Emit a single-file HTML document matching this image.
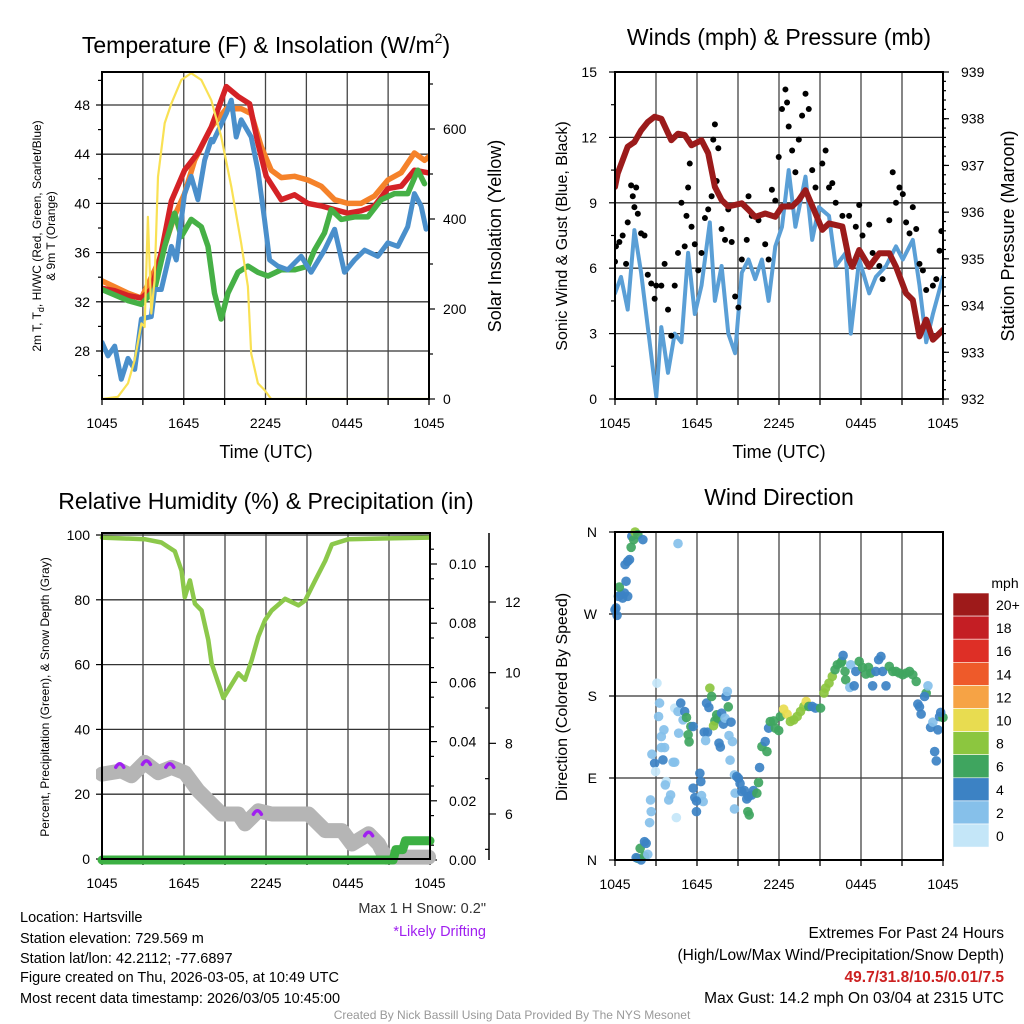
<!DOCTYPE html>
<html><head><meta charset="utf-8"><style>
body{margin:0;background:#fff}
svg{display:block;font-family:"Liberation Sans",sans-serif}
</style></head><body>
<svg id="s" width="1024" height="1024" viewBox="0 0 1024 1024" xmlns="http://www.w3.org/2000/svg">
<rect width="1024" height="1024" fill="#fff"/>
<g font-size="23" text-anchor="middle" fill="#000">
<text x="266" y="53">Temperature (F) &amp; Insolation (W/m<tspan font-size="14" dy="-10">2</tspan><tspan dy="10">)</tspan></text>
<text x="779" y="45">Winds (mph) &amp; Pressure (mb)</text>
<text x="266" y="509">Relative Humidity (%) &amp; Precipitation (in)</text>
<text x="779" y="505">Wind Direction</text>
</g>
<g font-size="18" text-anchor="middle">
<text x="266" y="458">Time (UTC)</text>
<text x="779" y="458">Time (UTC)</text>
<text transform="translate(501,236) rotate(-90)">Solar Insolation (Yellow)</text>
<text transform="translate(1014,236) rotate(-90)">Station Pressure (Maroon)</text>
</g>
<g font-size="16" text-anchor="middle">
<text transform="translate(567,236) rotate(-90)">Sonic Wind &amp; Gust (Blue, Black)</text>
<text transform="translate(567,697) rotate(-90)">Direction (Colored By Speed)</text>
</g>
<g font-size="12" text-anchor="middle">
<text transform="translate(41,236) rotate(-90)">2m T, T<tspan font-size="9" dy="3">d</tspan><tspan dy="-3">, HI/WC (Red, Green, Scarlet/Blue)</tspan></text>
<text transform="translate(55,236) rotate(-90)">&amp; 9m T (Orange)</text>
<text transform="translate(49,697) rotate(-90)">Percent, Precipitation (Green), &amp; Snow Depth (Gray)</text>
</g>
<g font-size="14.5" fill="#000">
<text x="20" y="922">Location: Hartsville</text>
<text x="20" y="943">Station elevation: 729.569 m</text>
<text x="20" y="963">Station lat/lon: 42.2112; -77.6897</text>
<text x="20" y="982">Figure created on Thu, 2026-03-05, at 10:49 UTC</text>
<text x="20" y="1003">Most recent data timestamp: 2026/03/05 10:45:00</text>
<text x="486" y="913" text-anchor="end" fill="#333">Max 1 H Snow: 0.2"</text>
<text x="486" y="936" text-anchor="end" fill="#a020f0">*Likely Drifting</text>
</g>
<g font-size="15.5" text-anchor="end">
<text x="1004" y="938">Extremes For Past 24 Hours</text>
<text x="1004" y="960">(High/Low/Max Wind/Precipitation/Snow Depth)</text>
<text x="1004" y="982" fill="#cc2020" font-weight="bold">49.7/31.8/10.5/0.01/7.5</text>
<text x="1004" y="1003">Max Gust: 14.2 mph On 03/04 at 2315 UTC</text>
</g>
<text x="512" y="1019" font-size="12" fill="#999" text-anchor="middle">Created By Nick Bassill Using Data Provided By The NYS Mesonet</text>
</svg>
<script>
// ---------- Panel 1 data ----------
const redHours=[0,0.93,1.91,2.89,3.62,4.35,5.09,6.06,7.04,8.02,9.12,9.98,10.83,11.44,12.05,13.15,14.13,15.11,16.09,17.07,18.04,19.02,20,20.98,21.96,22.93,23.9];
const redTemp=[33.1,32.9,32.5,32.3,33,36,40.2,42.7,44.1,46.2,49.5,48.7,48.1,44.9,42.2,40.3,40.7,40,39.8,39.5,39.2,39.4,39.8,41.2,41.4,42.7,42.5];
const orangeHours=[0,1.91,2.89,4.35,5.33,6.06,6.8,8.02,9.12,10.22,10.95,11.69,12.42,13.15,14.13,15.11,16.09,17.07,18.04,19.02,20,20.98,21.96,22.93,23.67,24];
const orangeTemp=[33.7,32.7,32.3,35.7,39,40.8,43.5,46.2,47.7,47.7,47.3,44.6,42.7,42.1,42.2,41.9,41.4,40.3,40,40,40.6,41.9,42.5,44.1,43.5,43.8];
const greenHours=[0,1.91,2.89,3.86,4.6,5.33,5.82,6.55,7.29,7.78,8.26,8.75,9.24,9.98,10.71,11.44,12.18,13.15,14.13,15.11,15.6,16.33,16.82,17.56,18.53,19.51,20.49,21.47,22.44,23.18,23.67];
const greenTemp=[33,32.1,31.8,33,36.5,39.2,37.3,38.7,38.1,36.5,32.7,30.6,32.7,34.4,34.9,34.4,34.1,34.6,34.6,34.9,36.2,37.6,39.5,38.7,38.9,38.9,40.3,40.8,40.8,42.7,41.6];
const blueHours=[0,0.44,0.93,1.42,1.91,2.4,2.89,3.62,3.86,4.35,5.09,5.45,6.06,6.55,7.04,7.53,8.02,8.14,9.12,9.49,9.85,10.22,10.95,11.44,11.93,12.3,12.91,13.64,14.62,15.35,16.33,17.07,17.8,18.53,19.27,20.24,20.98,21.71,22.44,22.93,23.42,23.79];
const blueTemp=[28.7,27.6,28.4,25.7,27.4,26.5,30.6,30.8,33,33,36.5,35.4,40.8,42.2,40.3,43.5,45.2,45,47.3,48.4,45.4,46.8,45.4,42.7,38.7,35.4,34.9,34.6,35.7,34.4,36.2,37.9,34.4,35.4,36.2,35.7,36.8,36.5,38.1,40.8,39.8,37.9];
const solarHours=[0,1.17,1.91,2.4,2.89,3.13,3.37,3.62,3.86,4.11,4.6,5.09,5.82,6.55,7.29,8.02,8.75,9.49,10.22,10.71,10.95,11.44,11.93,12.42,24];
const solarVals=[0,5,35,87,168,160,405,190,264,494,613,657,709,724,709,664,583,472,346,250,101,35,20,0,0];
const xTickLabels=["1045","1645","2245","0445","1045"];
const tempTicks=[28,32,36,40,44,48];
const solarTicks=[0,200,400,600];
// ---------- Panel 2 data ----------
const windHours=[0,0.44,0.93,1.42,1.91,2.4,3.02,3.39,3.88,4.37,4.86,5.35,5.84,6.33,6.94,7.31,7.8,8.29,8.79,9.28,9.77,10.26,10.75,11.24,11.73,12.22,12.71,13.2,13.94,14.43,14.92,15.66,16.15,16.88,17.25,17.87,18.6,19.09,19.83,20.56,21.06,21.79,22.28,22.77,23.26,24];
const windVals=[4.85,5.6,4.1,7.75,5.8,3.3,0.1,3.3,1.2,3.0,2.6,6.7,3.9,5.2,8.1,4.5,6.1,3.0,2.1,5.8,6.4,5.5,6.4,4.5,7.0,7.9,10.5,7.9,10.2,7.3,8.8,8.4,6.1,6.7,3.0,6.4,4.85,5.6,6.1,7.0,6.4,7.3,5.2,2.6,3.9,5.6];
const gustHours=[0,0.07,0.32,0.56,0.81,0.93,1.18,1.3,1.42,1.55,1.67,1.91,2.16,2.4,2.65,2.9,3.02,3.39,3.63,3.88,4.12,4.37,4.61,4.86,5.1,5.23,5.35,5.47,5.6,5.84,6.09,6.33,6.58,6.82,7.07,7.19,7.31,7.44,7.56,7.8,8.05,8.29,8.54,8.79,9.03,9.28,9.64,9.77,10.01,10.5,10.99,11.24,11.48,11.73,11.98,12.22,12.47,12.59,12.71,12.96,13.2,13.45,13.69,13.94,14.18,14.43,14.67,15.17,15.41,15.66,15.9,16.15,16.64,17.13,17.62,17.87,18.11,18.6,18.85,19.34,19.58,20.07,20.32,20.56,20.81,21.06,21.3,21.55,21.79,22.04,22.28,22.53,22.77,23.26,23.51,23.75,23.88];
const gustVals=[6.3,7.0,7.2,7.5,6.2,8.1,9.8,9.3,8.8,9.7,8.5,7.6,7.5,5.7,5.3,4.6,5.2,5.2,6.2,4.1,2.9,5.2,6.7,9.0,7.0,8.4,9.7,10.8,7.9,7.1,5.9,6.7,8.3,8.7,9.3,11.9,12.6,10.0,11.5,7.8,7.3,8.7,7.2,4.7,4.2,6.4,7.3,9.3,8.4,8.2,7.1,6.4,9.6,9.1,11.1,13.3,14.2,13.6,12.5,11.4,10.4,11.9,13.0,14.0,13.3,10.5,9.7,10.8,11.4,9.7,9.9,9.0,8.4,8.4,7.9,8.9,7.5,8.0,6.7,6.1,5.5,8.2,10.4,9.0,9.7,9.4,8.1,7.6,8.8,7.8,6.2,5.9,5.0,5.2,5.5,6.8,7.7];
const presHours=[0,0.2,0.93,1.42,1.91,2.4,2.9,3.39,4.12,4.61,5.1,5.6,6.33,6.82,7.31,7.8,8.29,9.28,9.77,10.26,10.99,11.73,12.22,12.96,13.45,13.94,14.67,15.17,15.66,16.64,17.13,17.37,17.87,18.6,19.34,20.07,20.56,21.3,21.79,22.28,22.77,23.26,24];
const presVals=[936.54,936.83,937.4,937.5,937.75,937.93,938.04,938.0,937.54,937.68,937.65,937.43,937.54,937.26,936.54,936.26,936.12,936.19,936.05,935.9,935.97,935.9,936.12,936.12,936.26,936.47,935.97,935.62,935.76,935.69,934.98,934.83,935.19,934.83,935.12,935.12,934.83,934.26,934.12,933.34,933.7,933.27,933.48];
const windTicks=[0,3,6,9,12,15];
const presTicks=[932,933,934,935,936,937,938,939];
// ---------- Panel 3 data ----------
const rhHours=[0,3.13,4.35,5.33,5.82,6.06,6.43,6.8,7.29,7.78,8.02,8.51,8.88,9.24,9.98,10.46,10.95,11.44,11.93,12.42,13.4,14.38,14.87,15.6,16.33,16.82,18.04,23.9];
const rhVals=[99.2,98.7,97.7,95,89,80.8,86,78.8,76.7,67.6,60.4,54.3,49.7,52.2,57.3,55.3,61.4,68.6,73.7,76.7,80.3,78.3,79.8,86,92,97.1,98.7,99.2];
const snowHours=[0,1.42,2.15,3.13,4.11,5.09,6.06,7.04,8.02,8.75,9.98,10.46,11.44,12.42,15.11,16.33,17.56,18.29,19.51,20.24,20.73,23.9];
const snowVals=[7.13,7.22,7.08,7.46,7.17,7.32,7.17,6.66,6.28,6.0,6.0,5.72,6.09,6.0,6.0,5.53,5.53,5.15,5.44,5.15,4.78,4.78];
const driftHours=[1.3,3.25,4.96,11.37,19.51];
const driftVals=[7.38,7.46,7.38,6.05,5.44];
const precipHours=[0,21.3,21.5,22.0,22.2,24];
const precipVals=[0,0,0.0035,0.0035,0.0065,0.0065];
const rhTicks=[0,20,40,60,80,100];
const precipTicks=["0.00","0.02","0.04","0.06","0.08","0.10"];
const snowTicks=[6,8,10,12];
// ---------- Panel 4 data ----------
const dirHours=[0,0.07,0.15,0.25,0.44,0.56,0.69,0.93,0.32,0.81,0.74,0.93,1.06,1.18,1.23,1.37,1.47,1.67,2.04,4.61,
1.67,1.55,1.91,2.16,2.4,1.84,2.16,2.28,2.53,2.65,2.6,2.7,2.9,2.97,3.07,3.26,3.19,3.39,3.51,3.58,3.39,3.63,3.75,3.68,3.93,4.07,4.25,4.37,4.49,4.37,4.61,4.81,4.98,5.1,5.23,4.66,5.35,5.55,5.42,
5.72,5.72,5.84,5.96,6.21,6.28,6.33,6.45,5.96,6.53,6.77,6.63,6.7,6.87,6.94,7.07,7.44,7.31,7.21,7.51,7.8,7.93,8.05,8.12,8.22,8.29,8.49,7.61,7.71,8.34,8.59,8.42,8.74,8.91,9.03,8.79,8.74,9.15,9.28,9.47,9.64,9.77,10.01,10.13,10.38,10.5,9.72,9.82,10.58,10.75,10.99,11.12,11.24,11.36,11.61,11.73,11.98,12.1,12.34,12.59,12.83,13.08,13.33,13.57,13.82,13.99,14.18,14.43,14.67,15.04,15.29,15.41,15.66,15.9,16.1,16.27,16.52,16.59,16.69,16.83,16.88,17.18,17.25,17.5,17.62,17.87,18.11,18.36,18.55,18.72,18.85,19.09,19.29,19.46,19.58,19.83,20.07,20.32,20.56,20.81,21.06,21.3,21.55,21.79,22.04,22.77,22.9,22.65,22.16,22.28,22.4,23.09,23.26,23.39,23.51,23.63,23.75,24,23.83];
const dirVals=[274.7,276.6,268.5,289.4,291.2,287.5,293.0,289.4,299.6,305.9,324.2,327.8,329.7,343.2,355.3,351.6,360,357.1,351.6,347.3,
1.8,2.6,0,4.4,6.2,12.8,20.1,18.3,41.0,53.1,65.9,116.1,106.2,97.1,194.1,172.2,157.5,135.5,109.9,142.9,123.4,123.4,86.1,82.4,65.9,71.4,107.3,107.3,46.5,166.7,163.0,172.2,153.8,163.0,156.4,139.2,137.4,146.5,129.7,
146.5,78.8,68.5,53.1,95.2,86.1,70.7,64.1,64.8,140.3,140.3,131.1,172.2,167.4,188.6,179.5,159.3,152.7,147.3,155.7,161.2,149.1,155.7,179.5,185.0,168.1,151.3,128.2,124.0,136.6,130.0,109.5,93.4,91.6,89.7,73.3,56.0,84.0,75.1,76.2,67.0,69.6,71.4,76.2,73.3,85.0,53.1,49.5,101.5,124.5,130.0,119.0,144.7,152.0,152.7,144.7,142.1,157.5,165.6,160.1,152.0,153.8,157.5,163.0,168.5,174.0,168.5,168.5,166.7,166.7,183.2,188.6,194.1,201.5,208.8,214.3,216.1,217.9,224.5,207.0,197.8,189.4,214.3,191.2,207.0,217.9,211.4,204.0,211.4,205.1,191.2,207.0,219.8,223.4,207.0,191.2,212.5,207.0,207.0,205.1,203.3,205.1,207.0,203.3,196.0,183.2,191.2,179.5,171.1,168.1,160.1,145.6,151.3,119.0,108.8,142.9,157.3,156.4,162.0,155.7];
const dirSpeeds=[4,4,4,4,4,4,4,4,6,4,4,4,4,6,4,6,8,6,4,2,
6,4,4,6,2,6,4,4,2,2,2,2,4,0.5,0.5,2,2,2,4,2,2,2,0.5,2,2,2,2,2,0.5,0.5,2,4,2,4,6,2,6,6,6,
4,4,4,4,4,4,2,2,4,4,4,2,4,4,8,6,6,6,8,6,4,4,2,4,2,6,4,4,4,2,2,2,2,4,4,2,2,4,4,4,4,4,4,4,6,6,6,6,4,6,4,6,4,6,6,6,6,6,10,10,8,8,8,8,8,10,6,4,4,6,8,8,8,8,6,6,6,6,4,6,6,2,2,4,4,6,6,6,6,6,4,4,4,4,4,4,6,6,6,6,6,6,6,6,6,6,2,4,4,4,4,4,2,4,4,4,4,6,4,6];
const cbLabels=["20+","18","16","14","12","10","8","6","4","2","0"];
const cbColors=["#9e1a1a","#c41e24","#de2f26","#ee5a2a","#f6a345","#e8dc50","#8cc63f","#3fa55f","#3c82c4","#86c0ea","#c4e6f8"];
const dirLabels=["N","E","S","W","N"];

const NS="http://www.w3.org/2000/svg";
const svg=document.getElementById('s');
function mk(tag,attrs,parent){const e=document.createElementNS(NS,tag);for(const k in attrs)e.setAttribute(k,attrs[k]);(parent||svg).appendChild(e);return e;}
function lin(d0,d1,r0,r1){return v=>r0+(v-d0)*(r1-r0)/(d1-d0);}
function pathD(xs,ys,fx,fy){return xs.map((h,i)=>(i?'L':'M')+fx(h).toFixed(1)+','+fy(ys[i]).toFixed(1)).join('');}

function frame(x0,x1,y0,y1,name){
  const g=mk('g',{});
  
  
  return g;
}
function timeAxis(g,x0,x1,y0,y1,xs){
  for(let h=3;h<24;h+=3){const l=mk('line',{x1:xs(h),x2:xs(h),y1:y0,y2:y1,stroke:'#444','stroke-width':1.3},g);
  
  }
  for(let h=0;h<=24;h+=3){const l=mk('line',{x1:xs(h),x2:xs(h),y1:y1,y2:y1+6,stroke:'#000','stroke-width':1.3},g);
  
  }
  xTickLabels.forEach((t,i)=>{const e=mk('text',{x:xs(i*6),y:y1+29,'font-size':14,'text-anchor':'middle'},g);e.textContent=t;
  
  });
}
function border(g,x0,x1,y0,y1){const r=mk('rect',{x:x0,y:y0,width:x1-x0,height:y1-y0,fill:'none',stroke:'#000','stroke-width':2},g);
  
  }
function hgrid(g,x0,x1,y){const l=mk('line',{x1:x0,x2:x1,y1:y,y2:y,stroke:'#333','stroke-width':1.3},g);
  
  }
function tick(g,x,y,len,name){const l=mk('line',{x1:x,x2:x+len,y1:y,y2:y,stroke:'#000','stroke-width':1.2},g);
  
  }
function label(g,x,y,t,anchor,name,size){const e=mk('text',{x:x,y:y+5,'font-size':size||14,'text-anchor':anchor},g);e.textContent=t;
  
  return e;}
function series(g,xs,ys,fx,fy,color,w,name){const p=mk('path',{d:pathD(xs,ys,fx,fy),fill:'none',stroke:color,'stroke-width':w,'stroke-linejoin':'round','stroke-linecap':'round'},g);
  
  return p;}

// ===== Panel 1 =====
{const x0=102,x1=429,y0=72,y1=399;const xs=lin(0,24,x0,x1);
 const yt=lin(28,48,351,105), ys=lin(0,600,399,129);
 const g=frame(x0,x1,y0,y1,'temperature-panel');
 tempTicks.forEach(t=>{hgrid(g,x0,x1,yt(t));tick(g,x0,yt(t),-6,'temp-tick');label(g,x0-12,yt(t),String(t),'end','temp-tick-label');});
 for(let t=26;t<=50;t+=2){if(t%4)tick(g,x0,yt(t),-4,'temp-minor-tick');}
 solarTicks.forEach(s=>{tick(g,x1,ys(s),6,'solar-tick');label(g,x1+14,ys(s),String(s),'start','solar-tick-label');});
 for(let s=100;s<=700;s+=200)tick(g,x1,ys(s),4,'solar-minor-tick');
 timeAxis(g,x0,x1,y0,y1,xs);
 const cp=mk('clipPath',{id:'c1'},g);mk('rect',{x:x0,y:y0,width:x1-x0,height:y1-y0},cp);
 const d=mk('g',{'clip-path':'url(#c1)'},g);
 series(d,orangeHours,orangeTemp,xs,yt,'#f5822a',5.5,'orange-9m-temp-line');
 series(d,redHours,redTemp,xs,yt,'#d42226',5.5,'red-2m-temp-line');
 series(d,greenHours,greenTemp,xs,yt,'#46b046',5.5,'green-dewpoint-line');
 series(d,blueHours,blueTemp,xs,yt,'#4a8fcb',5,'blue-windchill-line');
 series(d,solarHours,solarVals,xs,ys,'#f9e154',2.2,'yellow-insolation-line');
 border(g,x0,x1,y0,y1);}

// ===== Panel 2 =====
{const x0=615,x1=943,y0=72,y1=399;const xs=lin(0,24,x0,x1);
 const yw=lin(0,15,399,72), yp=lin(932,939,399,72);
 const g=frame(x0,x1,y0,y1,'winds-panel');
 windTicks.forEach(v=>{hgrid(g,x0,x1,yw(v));tick(g,x0,yw(v),-6,'wind-tick');label(g,x0-18,yw(v),String(v),'end','wind-tick-label');});
 for(let v=1.5;v<15;v+=3)tick(g,x0,yw(v),-4,'wind-minor-tick');
 presTicks.forEach(p=>{tick(g,x1,yp(p),6,'pressure-tick');label(g,x1+18,yp(p),String(p),'start','pressure-tick-label');});
 for(let p=932.2;p<939;p+=0.2)tick(g,x1,yp(p),3,'pressure-minor-tick');
 timeAxis(g,x0,x1,y0,y1,xs);
 const cp=mk('clipPath',{id:'c2'},g);mk('rect',{x:x0,y:y0,width:x1-x0,height:y1-y0},cp);
 const d=mk('g',{'clip-path':'url(#c2)'},g);
 series(d,windHours,windVals,xs,yw,'#5a9fd6',4,'sonic-wind-line');
 gustHours.forEach((h,i)=>{const c=mk('circle',{cx:xs(h),cy:yw(gustVals[i]),r:3,fill:'#000'},d);
  
  });
 series(d,presHours,presVals,xs,yp,'#9b1b1b',6,'pressure-line');
 border(g,x0,x1,y0,y1);}

// ===== Panel 3 =====
{const x0=102,x1=430,y0=533,y1=859;const xs=lin(0,24,x0,x1);
 const yr=lin(0,100,y1,535), ypc=lin(0,0.10,860,564), ysn=lin(6,12,814,602);
 const g=frame(x0,x1,y0,y1,'humidity-panel');
 rhTicks.forEach(v=>{hgrid(g,x0,x1,yr(v));tick(g,x0,yr(v),-6,'rh-tick');label(g,x0-12,yr(v),String(v),'end','rh-tick-label');});
 precipTicks.forEach((t,i)=>{const y=ypc(i*0.02);tick(g,x1,y,7,'precip-tick');label(g,x1+19,y,t,'start','precip-tick-label');});
 for(let p=0.005;p<0.11;p+=0.01)tick(g,x1,ypc(p),4,'precip-minor-tick');
 const ax=mk('line',{x1:489,x2:489,y1:533,y2:860,stroke:'#000','stroke-width':1.5},g);
 
 
 snowTicks.forEach(v=>{tick(g,489,ysn(v),7,'snow-tick');label(g,505,ysn(v),String(v),'start','snow-tick-label');});
 for(let v=5;v<14;v+=1)if(v%2)tick(g,489,ysn(v),-4,'snow-minor-tick');
 timeAxis(g,x0,x1,y0,y1,xs);
 const cp=mk('clipPath',{id:'c3'},g);mk('rect',{x:x0-6,y:y0,width:x1-x0+12,height:y1-y0+8},cp);
 const d=mk('g',{'clip-path':'url(#c3)'},g);
 series(d,snowHours,snowVals,xs,ysn,'#b5b5b5',15,'snow-depth-line');
 driftHours.forEach((h,i)=>{const cx=xs(h),cy=ysn(driftVals[i]);const a=mk('path',{d:`M${cx-4},${cy+2}Q${cx},${cy-5} ${cx+4},${cy+2}`,fill:'none',stroke:'#a020f0','stroke-width':3.5,'stroke-linecap':'round'},d);
  
  });
 series(d,rhHours,rhVals,xs,yr,'#8cc84b',4.5,'relative-humidity-line');
 series(d,precipHours,precipVals,xs,ypc,'#3cb043',9,'precipitation-line');
 border(g,x0,x1,y0,y1);}

// ===== Panel 4 =====
{const x0=615,x1=943,y0=532,y1=860;const xs=lin(0,24,x0,x1);const yd=lin(0,360,y1,y0);
 const g=frame(x0,x1,y0,y1,'wind-direction-panel');
 dirLabels.forEach((t,i)=>{const y=yd(i*90);hgrid(g,x0,x1,y);tick(g,x0,y,-6,'direction-tick');label(g,x0-18,y,t,'end','direction-tick-label');});
 timeAxis(g,x0,x1,y0,y1,xs);
 function colorFor(s){let i=Math.min(10,Math.floor((s+1)/2));return cbColors[10-i];}
 dirHours.forEach((h,i)=>{const c=mk('circle',{cx:xs(h),cy:yd(dirVals[i]),r:4.8,fill:colorFor(dirSpeeds[i]),'fill-opacity':0.92},g);
  
  });
 border(g,x0,x1,y0,y1);
 const cb=mk('g',{},svg);
 
 
 const mph=mk('text',{x:1005,y:588,'font-size':14,'text-anchor':'middle'},cb);mph.textContent='mph';
 
 
 cbLabels.forEach((t,i)=>{const y=593+i*23.1;const r=mk('rect',{x:953,y:y,width:36,height:23.1,fill:cbColors[i],stroke:'#fff','stroke-width':0.6},cb);
  
  
  const e=mk('text',{x:996,y:y+17,'font-size':14},cb);e.textContent=t;
  
  });}
</script>
</body></html>
